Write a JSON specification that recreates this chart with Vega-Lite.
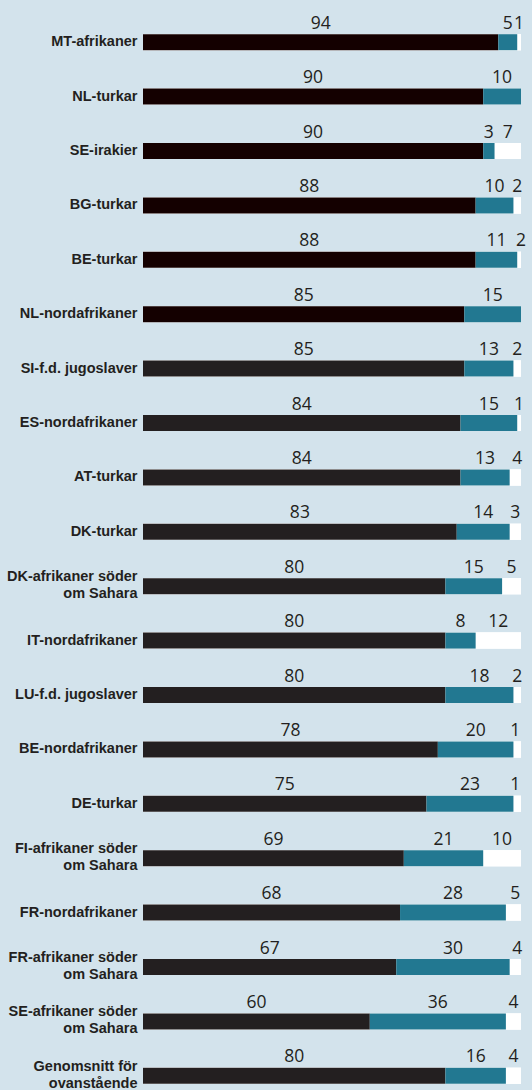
{
  "$schema": "https://vega.github.io/schema/vega-lite/v6.json",
  "width": 378,
  "height": 1088,
  "autosize": {"type": "none"},
  "padding": {"left": 143, "top": 0, "right": 11, "bottom": 2},
  "background": "#d3e3ec",
  "config": {"view": {"stroke": null}, "font": "Open Sans"},
  "data": {"values": [
    {"cat": "MT-afrikaner", "seg": "Ja", "value": 94}, {"cat": "MT-afrikaner", "seg": "Nej", "value": 5}, {"cat": "MT-afrikaner", "seg": "Vet ej", "value": 1},
    {"cat": "NL-turkar", "seg": "Ja", "value": 90}, {"cat": "NL-turkar", "seg": "Nej", "value": 10},
    {"cat": "SE-irakier", "seg": "Ja", "value": 90}, {"cat": "SE-irakier", "seg": "Nej", "value": 3}, {"cat": "SE-irakier", "seg": "Vet ej", "value": 7},
    {"cat": "BG-turkar", "seg": "Ja", "value": 88}, {"cat": "BG-turkar", "seg": "Nej", "value": 10}, {"cat": "BG-turkar", "seg": "Vet ej", "value": 2},
    {"cat": "BE-turkar", "seg": "Ja", "value": 88}, {"cat": "BE-turkar", "seg": "Nej", "value": 11}, {"cat": "BE-turkar", "seg": "Vet ej", "value": 2},
    {"cat": "NL-nordafrikaner", "seg": "Ja", "value": 85}, {"cat": "NL-nordafrikaner", "seg": "Nej", "value": 15},
    {"cat": "SI-f.d. jugoslaver", "seg": "Ja", "value": 85}, {"cat": "SI-f.d. jugoslaver", "seg": "Nej", "value": 13}, {"cat": "SI-f.d. jugoslaver", "seg": "Vet ej", "value": 2},
    {"cat": "ES-nordafrikaner", "seg": "Ja", "value": 84}, {"cat": "ES-nordafrikaner", "seg": "Nej", "value": 15}, {"cat": "ES-nordafrikaner", "seg": "Vet ej", "value": 1},
    {"cat": "AT-turkar", "seg": "Ja", "value": 84}, {"cat": "AT-turkar", "seg": "Nej", "value": 13}, {"cat": "AT-turkar", "seg": "Vet ej", "value": 4},
    {"cat": "DK-turkar", "seg": "Ja", "value": 83}, {"cat": "DK-turkar", "seg": "Nej", "value": 14}, {"cat": "DK-turkar", "seg": "Vet ej", "value": 3},
    {"cat": "DK-afrikaner söder|om Sahara", "seg": "Ja", "value": 80}, {"cat": "DK-afrikaner söder|om Sahara", "seg": "Nej", "value": 15}, {"cat": "DK-afrikaner söder|om Sahara", "seg": "Vet ej", "value": 5},
    {"cat": "IT-nordafrikaner", "seg": "Ja", "value": 80}, {"cat": "IT-nordafrikaner", "seg": "Nej", "value": 8}, {"cat": "IT-nordafrikaner", "seg": "Vet ej", "value": 12},
    {"cat": "LU-f.d. jugoslaver", "seg": "Ja", "value": 80}, {"cat": "LU-f.d. jugoslaver", "seg": "Nej", "value": 18}, {"cat": "LU-f.d. jugoslaver", "seg": "Vet ej", "value": 2},
    {"cat": "BE-nordafrikaner", "seg": "Ja", "value": 78}, {"cat": "BE-nordafrikaner", "seg": "Nej", "value": 20}, {"cat": "BE-nordafrikaner", "seg": "Vet ej", "value": 1},
    {"cat": "DE-turkar", "seg": "Ja", "value": 75}, {"cat": "DE-turkar", "seg": "Nej", "value": 23}, {"cat": "DE-turkar", "seg": "Vet ej", "value": 1},
    {"cat": "FI-afrikaner söder|om Sahara", "seg": "Ja", "value": 69}, {"cat": "FI-afrikaner söder|om Sahara", "seg": "Nej", "value": 21}, {"cat": "FI-afrikaner söder|om Sahara", "seg": "Vet ej", "value": 10},
    {"cat": "FR-nordafrikaner", "seg": "Ja", "value": 68}, {"cat": "FR-nordafrikaner", "seg": "Nej", "value": 28}, {"cat": "FR-nordafrikaner", "seg": "Vet ej", "value": 5},
    {"cat": "FR-afrikaner söder|om Sahara", "seg": "Ja", "value": 67}, {"cat": "FR-afrikaner söder|om Sahara", "seg": "Nej", "value": 30}, {"cat": "FR-afrikaner söder|om Sahara", "seg": "Vet ej", "value": 4},
    {"cat": "SE-afrikaner söder|om Sahara", "seg": "Ja", "value": 60}, {"cat": "SE-afrikaner söder|om Sahara", "seg": "Nej", "value": 36}, {"cat": "SE-afrikaner söder|om Sahara", "seg": "Vet ej", "value": 4},
    {"cat": "Genomsnitt för|ovanstående", "seg": "Ja", "value": 80}, {"cat": "Genomsnitt för|ovanstående", "seg": "Nej", "value": 16}, {"cat": "Genomsnitt för|ovanstående", "seg": "Vet ej", "value": 4}
  ]},
  "encoding": {
    "y": {
      "field": "cat", "type": "nominal", "sort": null, "title": null,
      "scale": {"paddingInner": 0, "paddingOuter": 0},
      "axis": {
        "domain": false, "ticks": false, "grid": false,
        "labelPadding": 6,
        "labelOffset": {"condition": {"test": "indexof(datum.value, '|') >= 0", "value": 6}, "value": 15},
        "labelFont": "Liberation Sans",
        "labelFontWeight": "bold", "labelFontSize": 14.5, "labelColor": "#231f20",
        "labelLineHeight": 17, "labelLimit": 200,
        "labelExpr": "split(datum.label, '|')"
      }
    }
  },
  "layer": [
    {
      "mark": {"type": "bar", "height": 16, "yOffset": 15, "color": "#ffffff"},
      "encoding": {
        "x": {"datum": 100, "type": "quantitative", "scale": {"domain": [0, 100]}, "axis": null}
      }
    },
    {
      "transform": [{"filter": "datum.seg != 'Vet ej'"}],
      "mark": {"type": "bar", "height": 16, "yOffset": 15},
      "encoding": {
        "x": {"field": "value", "type": "quantitative", "stack": "zero", "scale": {"domain": [0, 100]}, "axis": null},
        "order": {"field": "seg"},
        "color": {
          "condition": {"test": "datum.seg == 'Ja' && indexof(['MT-afrikaner','NL-turkar','SE-irakier','BG-turkar','BE-turkar','NL-nordafrikaner'], datum.cat) >= 0", "value": "#140000"},
          "field": "seg", "type": "nominal",
          "scale": {"domain": ["Ja", "Nej"], "range": ["#231f20", "#227891"]},
          "legend": null
        }
      }
    },
    {
      "mark": {"type": "text", "yOffset": 1.5, "baseline": "alphabetic", "align": "center", "fontSize": 17.5, "font": "Open Sans", "color": "#231f20"},
      "encoding": {
        "x": {"field": "value", "type": "quantitative", "stack": "zero", "bandPosition": 0.5, "scale": {"domain": [0, 100]}, "axis": null},
        "order": {"field": "seg"},
        "text": {"field": "value", "type": "quantitative"}
      }
    }
  ]
}
